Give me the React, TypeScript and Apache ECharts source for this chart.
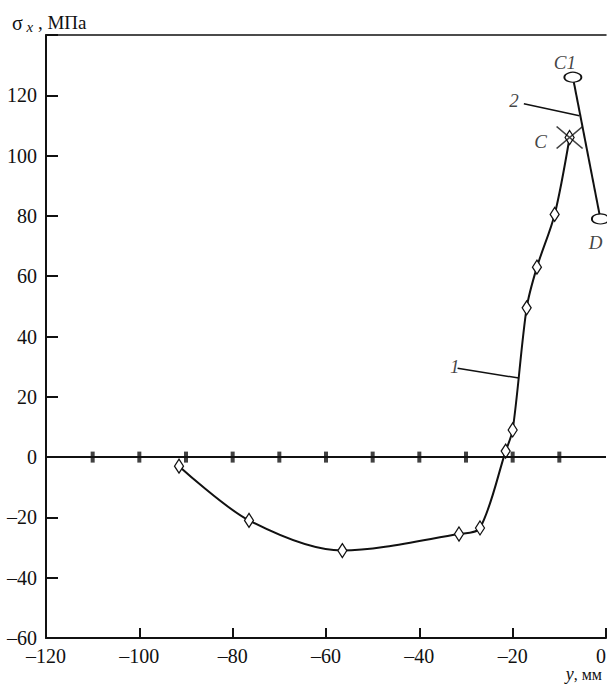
import React, { useEffect, useRef } from "react";
import * as echarts from "echarts";

// Curve 1 (diamonds), ends at point C
const curve1X = [-91.5, -76.5, -56.5, -31.5, -27, -21.5, -20, -17, -14.8, -11, -7.8];
const curve1Y = [-3, -21, -31, -25.5, -23.5, 2, 9, 49.5, 63, 80.5, 106];
// Curve 2: C1 -> D
const curve2X = [-7.1, -1.2];
const curve2Y = [126, 79];
// Point C
const pointC = [-7.8, 106];
// Minor tick marks on the zero line
const zeroTicks = [-110, -100, -90, -80, -70, -60, -50, -40, -30, -20, -10];
// Text labels (in data coordinates)
const noteLabels = [
  { text: "C1", x: -8.8, y: 131 },
  { text: "2", x: -19.7, y: 118.4 },
  { text: "C", x: -14, y: 104.8 },
  { text: "D", x: -2.2, y: 71.3 },
  { text: "1", x: -32.4, y: 29.9 },
];
// Leader lines
const leader2 = [[-17.6, 117.2], [-5.7, 113.2]];
const leader1 = [[-31.8, 29.5], [-18.7, 26.2]];

const INK = "#111";
const FONT = "Liberation Serif";

export default function App() {
  const ref = useRef<HTMLDivElement>(null);
  useEffect(() => {
    if (!ref.current) return;
    const chart = echarts.init(ref.current, null, { renderer: "svg" });
    const fmt = (v: number) => String(v).replace("-", "–");
    chart.setOption({
      animation: false,
      backgroundColor: "#fff",
      textStyle: { fontFamily: FONT },
      title: [
        {
          left: 7,
          top: 6,
          text: "{s|σ}{sub| x}{t| , МПа}",
          textStyle: {
            fontFamily: FONT,
            fontWeight: "normal",
            rich: {
              s: { fontFamily: FONT, fontSize: 20, fontWeight: "normal", color: INK },
              sub: { fontFamily: FONT, fontSize: 15, fontWeight: "normal", fontStyle: "italic", color: INK, padding: [8, 0, 0, 0] },
              t: { fontFamily: FONT, fontSize: 19, fontWeight: "normal", color: INK },
            },
          },
        },
        {
          right: 0,
          bottom: 0,
          text: "{i|y}{t|, мм}",
          textStyle: {
            fontFamily: FONT,
            fontWeight: "normal",
            rich: {
              i: { fontFamily: FONT, fontSize: 18, fontWeight: "normal", fontStyle: "italic", color: INK },
              t: { fontFamily: FONT, fontSize: 16, fontWeight: "normal", color: INK },
            },
          },
        },
      ],
      grid: { left: 46, right: 1, top: 35, bottom: 50, outerBoundsMode: "none" },
      xAxis: [
        {
          type: "value",
          min: -120,
          max: 0,
          interval: 20,
          position: "bottom",
          axisLine: { onZero: false, lineStyle: { color: INK, width: 2 } },
          axisTick: { inside: true, length: 10, lineStyle: { color: INK, width: 2 } },
          axisLabel: {
            formatter: fmt,
            fontFamily: FONT,
            fontSize: 20,
            color: INK,
            margin: 8,
            alignMaxLabel: "right",
          },
          splitLine: { show: false },
        },
        {
          type: "value",
          min: -120,
          max: 0,
          position: "top",
          axisLine: { onZero: false, lineStyle: { color: INK, width: 1.5 } },
          axisTick: { show: false },
          axisLabel: { show: false },
          splitLine: { show: false },
        },
      ],
      yAxis: {
        type: "value",
        min: -60,
        max: 140,
        interval: 20,
        axisLine: { onZero: false, lineStyle: { color: INK, width: 2 } },
        axisTick: { inside: true, length: 12, lineStyle: { color: INK, width: 2 } },
        axisLabel: {
          formatter: (v: number) => (v === 140 ? "" : fmt(v)),
          fontFamily: FONT,
          fontSize: 20,
          color: INK,
          margin: 9,
        },
        splitLine: { show: false },
      },
      series: [
        {
          type: "scatter",
          data: zeroTicks.map((x) => [x, 0]),
          symbol: "rect",
          symbolSize: [4, 11],
          itemStyle: { color: INK },
          silent: true,
          markLine: {
            silent: true,
            symbol: "none",
            label: { show: false },
            lineStyle: { color: INK, width: 2, type: "solid" },
            data: [{ yAxis: 0 }],
          },
        },
        {
          type: "line",
          data: curve1X.map((x, i) => [x, curve1Y[i]]),
          smooth: 0.3,
          symbol: "diamond",
          symbolSize: [9, 14],
          showSymbol: true,
          lineStyle: { color: INK, width: 2 },
          itemStyle: { color: "#fff", borderColor: INK, borderWidth: 1.3 },
          z: 3,
        },
        {
          type: "line",
          data: curve2X.map((x, i) => [x, curve2Y[i]]),
          symbol: "circle",
          symbolSize: [17, 10],
          lineStyle: { color: INK, width: 2 },
          itemStyle: { color: "#fff", borderColor: INK, borderWidth: 1.5 },
          z: 3,
        },
        {
          type: "scatter",
          data: [pointC],
          symbol: "path://M0,0L26,22M26,0L0,22",
          symbolSize: [26, 22],
          itemStyle: { color: "none", borderColor: INK, borderWidth: 1.5 },
          z: 4,
        },
        {
          type: "line",
          data: leader2,
          symbol: "none",
          lineStyle: { color: INK, width: 1.5 },
        },
        {
          type: "line",
          data: leader1,
          symbol: "none",
          lineStyle: { color: INK, width: 1.5 },
        },
        {
          type: "scatter",
          data: noteLabels.map((n) => ({ value: [n.x, n.y], name: n.text })),
          symbol: "circle",
          symbolSize: 1,
          itemStyle: { color: "rgba(0,0,0,0)" },
          label: {
            show: true,
            position: "inside",
            formatter: (p: any) => p.name,
            fontFamily: FONT,
            fontStyle: "italic",
            fontSize: 19,
            color: INK,
          },
          z: 5,
        },
      ],
    });
    return () => chart.dispose();
  }, []);
  return (
    <div
      ref={ref}
      style={{ position: "absolute", left: 0, top: 0, width: 607, height: 688 }}
    />
  );
}
